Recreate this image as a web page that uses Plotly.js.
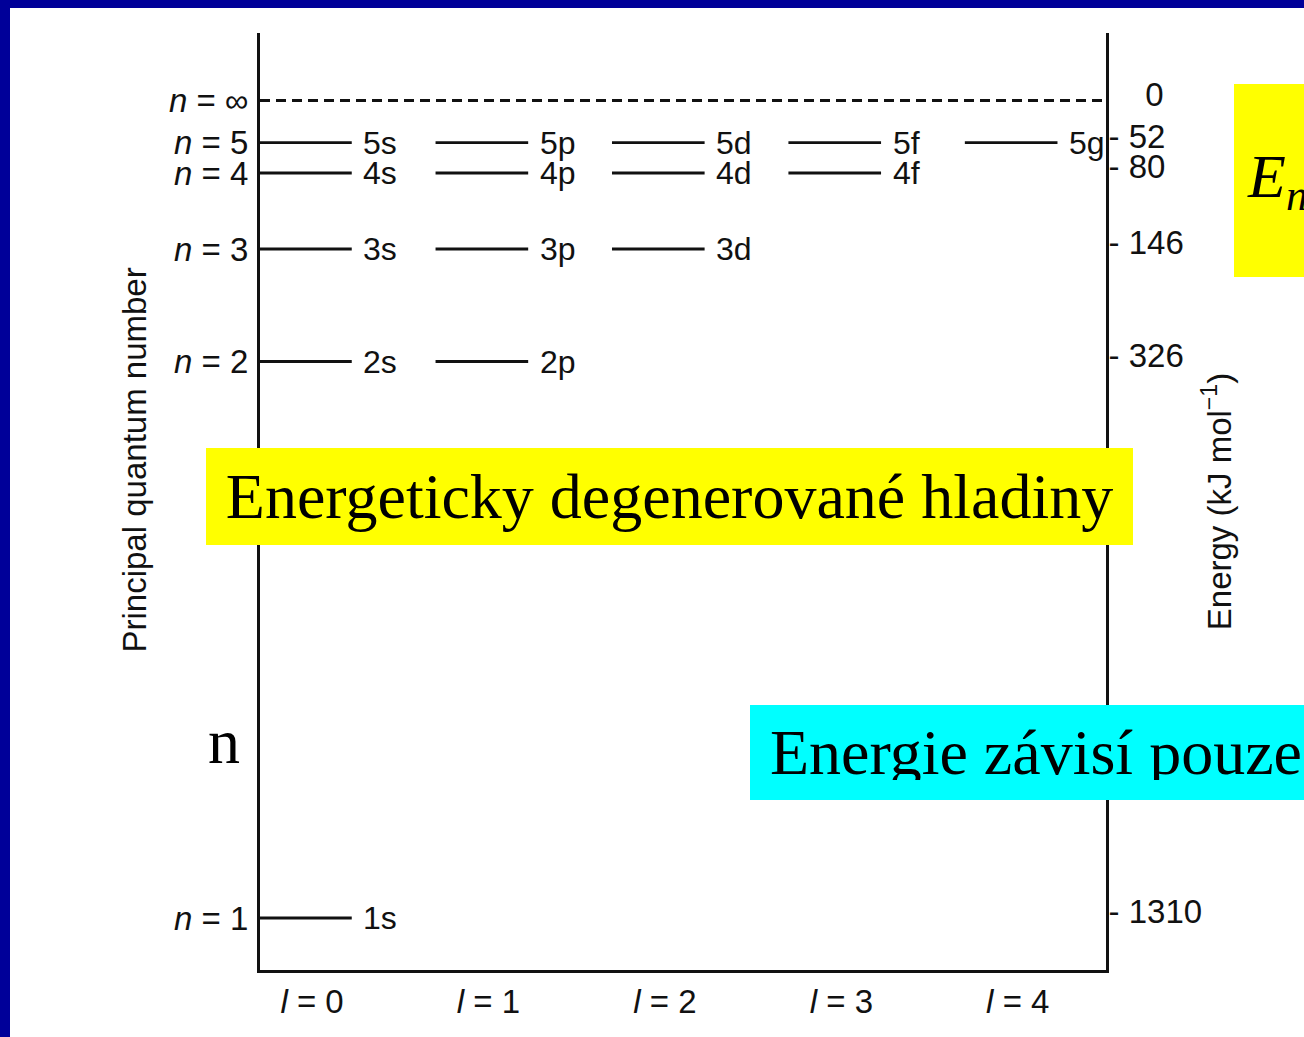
<!DOCTYPE html>
<html><head><meta charset="utf-8">
<script src="https://cdn.plot.ly/plotly-3.0.1.min.js"></script>
<style>
html,body{margin:0;padding:0;overflow:hidden;background:#fff;}
#wrap{position:relative;width:1304px;height:1037px;overflow:hidden;}
#chart{position:absolute;left:0;top:0;width:1304px;height:1037px;}
.band{position:absolute;background:#000099;pointer-events:none;}
</style></head><body>
<div id="wrap"><div id="chart"></div>
<div class="band" style="left:0;top:0;width:1304px;height:8px"></div>
<div class="band" style="left:0;top:0;width:10px;height:1037px"></div>
</div>
<script>
// ---- data ----
const principalN = [1, 2, 3, 4, 5];                 // n for the drawn levels
const levelLabels = ['<i>n</i> = 1', '<i>n</i> = 2', '<i>n</i> = 3', '<i>n</i> = 4', '<i>n</i> = 5', '<i>n</i> = ∞'];
const levelHeight = [5.55, 64.94, 76.95, 85.06, 88.31, 92.80]; // schematic height of each level (n=1..5, ∞)
const levelEnergy = [1310, 326, 146, 80, 52, 0];    // kJ/mol, right-hand scale
const lValues = [0, 1, 2, 3, 4];
const lLabels = ['<i>l</i> = 0', '<i>l</i> = 1', '<i>l</i> = 2', '<i>l</i> = 3', '<i>l</i> = 4'];
const subshellLetters = ['s', 'p', 'd', 'f', 'g'];

const SANS = 'Liberation Sans, Arial, Helvetica, sans-serif';
const SERIF = 'Liberation Serif, Times New Roman, serif';
const INK = '#111';

// plot geometry helpers (pixels -> paper)
const PL = 260, PW = 846, PB = 970, PH = 937;
const px = v => (v - PL) / PW;
const py = v => (PB - v) / PH;

// level segments
const segX = [], segY = [];
const annotations = [];
principalN.forEach((n, i) => {
  for (let l = 0; l < n; l++) {
    segX.push(lValues[l] - 0.30, lValues[l] + 0.225, null);
    segY.push(levelHeight[i], levelHeight[i], null);
    annotations.push({
      x: lValues[l] + 0.28, y: levelHeight[i], xref: 'x', yref: 'y',
      text: n + subshellLetters[l], showarrow: false,
      xanchor: 'left', yanchor: 'middle',
      font: {family: SANS, size: 32, color: INK}
    });
  }
});

const traces = [
  {x: segX, y: segY, mode: 'lines', type: 'scatter', line: {color: INK, width: 2.8},
   hoverinfo: 'skip', showlegend: false},
  {x: [null], y: [null], yaxis: 'y2', mode: 'markers', type: 'scatter', showlegend: false, hoverinfo: 'skip'}
];

annotations.push(
  {xref: 'paper', yref: 'paper', x: px(133.5), y: py(460), textangle: -90,
   text: 'Principal quantum number', showarrow: false, xanchor: 'center', yanchor: 'middle',
   font: {family: SANS, size: 33, color: INK}},
  {xref: 'paper', yref: 'paper', x: px(206), y: py(448), xanchor: 'left', yanchor: 'top',
   text: 'Energeticky degenerované hladiny', showarrow: false, bgcolor: '#ffff00',
   width: 927, height: 97, borderpad: 0, borderwidth: 0, align: 'center', valign: 'middle',
   font: {family: SERIF, size: 64, color: '#000'}},
  {xref: 'paper', yref: 'paper', x: px(750), y: py(705), xanchor: 'left', yanchor: 'top',
   text: 'Energie závisí pouze', showarrow: false, bgcolor: '#00ffff',
   width: 600, height: 55, borderpad: 20, borderwidth: 0, align: 'left', valign: 'middle',
   font: {family: SERIF, size: 64, color: '#000'}},
  {xref: 'paper', yref: 'paper', x: px(1234), y: py(84), xanchor: 'left', yanchor: 'top',
   text: '<i>E<sub>n</sub></i>', showarrow: false, bgcolor: '#ffff00',
   width: 100, height: 167, borderpad: 13, borderwidth: 0, align: 'left', valign: 'middle',
   font: {family: SERIF, size: 62, color: '#000'}},
  {xref: 'paper', yref: 'paper', x: px(224), y: py(741), xanchor: 'center', yanchor: 'middle',
   text: 'n', showarrow: false, font: {family: SERIF, size: 64, color: '#000'}}
);

const rightText = levelEnergy.map(e => e === 0 ? '\u00a0\u00a0\u00a0\u00a0' + e : '- ' + e);

const layout = {
  width: 1304, height: 1037,
  margin: {l: PL, r: 1304 - PL - PW, t: PB - PH, b: 1037 - PB, pad: 0},
  paper_bgcolor: '#fff', plot_bgcolor: '#fff',
  showlegend: false,
  xaxis: {range: [-0.295, 4.5], tickvals: lValues, ticktext: lLabels, showgrid: false, zeroline: false,
          showline: true, linecolor: INK, linewidth: 3, ticks: '', ticklabelstandoff: 0,
          tickfont: {family: SANS, size: 33, color: INK}, fixedrange: true},
  yaxis: {range: [0, 100], tickvals: levelHeight, ticktext: levelLabels, showgrid: false, zeroline: false,
          showline: true, linecolor: INK, linewidth: 3, ticks: '', ticklabelstandoff: 2,
          tickfont: {family: SANS, size: 33, color: INK}, fixedrange: true},
  yaxis2: {overlaying: 'y', side: 'right', anchor: 'x', range: [-0.69, 99.31],
           tickvals: levelHeight, ticktext: rightText, showgrid: false, zeroline: false,
           showline: true, linecolor: INK, linewidth: 3, ticks: '', ticklabelstandoff: -7,
           tickfont: {family: SANS, size: 33, color: INK},
           title: {text: 'Energy (kJ mol<sup>−1</sup>)', standoff: 7, font: {family: SANS, size: 33, color: INK}},
           fixedrange: true},
  shapes: [{type: 'line', xref: 'paper', yref: 'y', x0: 0, x1: 1, y0: levelHeight[5], y1: levelHeight[5],
            line: {color: INK, width: 3, dash: '10px,6px'}}],
  annotations: annotations
};

Plotly.newPlot('chart', traces, layout, {displayModeBar: false, staticPlot: true});
</script>
</body></html>
